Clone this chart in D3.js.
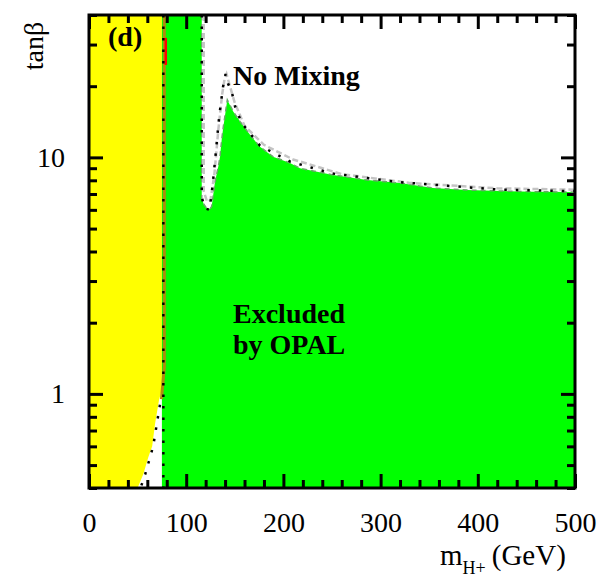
<!DOCTYPE html>
<html>
<head>
<meta charset="utf-8">
<script src="https://cdn.jsdelivr.net/npm/d3@7"></script>
<style>
  html, body { margin: 0; padding: 0; background: #fff; }
  svg { display: block; }
  text { font-family: "Liberation Serif", "Times New Roman", serif; fill: #000; }
</style>
</head>
<body>
<div id="chart"></div>
<script>
// ---------------- data ----------------
// x: charged Higgs mass m_H+ (GeV), y: tan(beta)
const xTickLabels = [0, 100, 200, 300, 400, 500];
const xMinorTicks = d3.range(0, 501, 20);
const yTickLabels = [1, 10];
const yMinorTicks = [0.4, 0.5, 0.6, 0.7, 0.8, 0.9, 1, 2, 3, 4, 5, 6, 7, 8, 9, 10, 20, 30, 40];

// LEP direct-search excluded region (yellow)
const lepMass = [0, 75, 75, 72, 68, 65, 61, 56, 50, 0];
const lepTanb = [40, 40, 1.05, 0.94, 0.75, 0.6, 0.54, 0.46, 0.4, 0.4];

// OPAL excluded region (green): upper boundary, left to right
const opalMass = [116, 116, 118, 121, 124.5, 126.2, 129.6, 133, 134.8, 136.5, 138.2, 140, 141.7, 142.3,
                  148.5, 155.3, 167.4, 175.9, 189.3, 206.8, 217, 251, 286, 320, 354, 389, 423, 457, 496, 500];
const opalTanb = [40, 6.7, 6.35, 6.1, 6.05, 6.2, 7.89, 9.13, 10.07, 11.85, 13.48, 15.1, 16.9, 17.5,
                  15.6, 14.2, 12.2, 11.1, 10.07, 9.47, 9.0, 8.43, 8.02, 7.79, 7.42, 7.28, 7.21, 7.16, 7.14, 7.13];
const opalLeftMass = 75;

// expected limit (dotted)
const expMass = [116, 116, 119, 124, 127, 130, 134, 138, 140.5, 143, 146.8, 150.3, 157, 176, 207, 250, 320, 423, 500];
const expTanb = [40, 6.8, 6.1, 6.0, 7.5, 10, 15, 20, 22.5, 20.5, 19.0, 16.4, 14.0, 11.2, 9.6, 8.55, 7.85, 7.3, 7.2];
const expLowMass = [76.5, 76.5];
const expLowTanb = [40, 0.4];
const expDiagMass = [73, 66, 58, 53];
const expDiagTanb = [0.9, 0.6, 0.46, 0.4];

// grey curve along the notch
const greyMass = [118, 118, 121.5, 125, 129, 133, 137, 139.5, 141.5, 145, 150, 160, 180, 210, 260, 330, 420, 500];
const greyTanb = [40, 7.2, 6.5, 6.6, 8.5, 13, 18.5, 21.5, 22.5, 20, 17, 13.6, 11.3, 9.8, 8.5, 7.8, 7.4, 7.3];

// boundary band between yellow and green
const bandMass = [77.5, 77.5, 74.5];
const bandTanb = [40, 1.3, 0.95];
const redMass = [79, 79];
const redTanb = [32, 24.6];

// ---------------- drawing ----------------
const W = 615, H = 577;
const L = 89, R = 575, T = 15, B = 488;

const svg = d3.select("#chart").append("svg").attr("width", W).attr("height", H);
const x = d3.scaleLinear().domain([0, 500]).range([L, R]);
const y = d3.scaleLog().domain([0.4, 40]).range([B, T]);

const zipPts = (xs, ys) => xs.map((v, i) => [x(v), y(ys[i])]);
const line = d3.line();

svg.append("defs").append("clipPath").attr("id", "plotclip")
  .append("rect").attr("x", L).attr("y", T).attr("width", R - L).attr("height", B - T);
const plot = svg.append("g").attr("clip-path", "url(#plotclip)");

// yellow
plot.append("path")
  .attr("d", line(zipPts(lepMass, lepTanb)) + "Z")
  .attr("fill", "#ffff00");

// green
const greenPts = [[x(opalLeftMass), y(0.4)], [x(opalLeftMass), y(40)]]
  .concat(zipPts(opalMass, opalTanb))
  .concat([[x(500), y(0.4)]]);
plot.append("path").attr("d", line(greenPts) + "Z").attr("fill", "#00ff00");

// soft edge along green boundary
plot.append("path")
  .attr("d", line(zipPts(opalMass, opalTanb)))
  .attr("fill", "none").attr("stroke", "#6aa86a").attr("stroke-width", 1.5)
  .attr("stroke-dasharray", "5,4");

// grey curve
plot.append("path")
  .attr("d", line(zipPts(greyMass, greyTanb)))
  .attr("fill", "none").attr("stroke", "#c4c4c4").attr("stroke-width", 2.5)
  .attr("stroke-dasharray", "6,3");

// band between yellow and green
plot.append("path")
  .attr("d", line(zipPts(bandMass, bandTanb)))
  .attr("fill", "none").attr("stroke", "#b08a10").attr("stroke-width", 3);
plot.append("path")
  .attr("d", line(zipPts(redMass, redTanb)))
  .attr("fill", "none").attr("stroke", "#ff0000").attr("stroke-width", 2.5);

// dotted expected lines
const dotted = (xs, ys) => plot.append("path")
  .attr("d", line(zipPts(xs, ys)))
  .attr("fill", "none").attr("stroke", "#000").attr("stroke-width", 2.5)
  .attr("stroke-dasharray", "2.5,9");
dotted(expMass, expTanb);
dotted(expLowMass, expLowTanb);
dotted(expDiagMass, expDiagTanb);

// ---------------- axes / ticks ----------------
const styleTicks = g => {
  g.select(".domain").remove();
  g.selectAll(".tick line").attr("stroke", "#000").attr("stroke-width", 3);
};
const minorX = xMinorTicks.filter(v => !xTickLabels.includes(v));
const minorY = yMinorTicks.filter(v => !yTickLabels.includes(v));

// bottom
svg.append("g").attr("transform", `translate(0,${B})`)
  .call(d3.axisBottom(x).tickValues(minorX).tickSize(-8).tickFormat("")).call(styleTicks);
svg.append("g").attr("transform", `translate(0,${B})`)
  .call(d3.axisBottom(x).tickValues(xTickLabels).tickSize(-14).tickFormat("")).call(styleTicks);
// top
svg.append("g").attr("transform", `translate(0,${T})`)
  .call(d3.axisTop(x).tickValues(minorX).tickSize(-8).tickFormat("")).call(styleTicks);
svg.append("g").attr("transform", `translate(0,${T})`)
  .call(d3.axisTop(x).tickValues(xTickLabels).tickSize(-14).tickFormat("")).call(styleTicks);
// left
svg.append("g").attr("transform", `translate(${L},0)`)
  .call(d3.axisLeft(y).tickValues(minorY).tickSize(-8).tickFormat("")).call(styleTicks);
svg.append("g").attr("transform", `translate(${L},0)`)
  .call(d3.axisLeft(y).tickValues(yTickLabels).tickSize(-14).tickFormat("")).call(styleTicks);
// right
svg.append("g").attr("transform", `translate(${R},0)`)
  .call(d3.axisRight(y).tickValues(minorY).tickSize(-8).tickFormat("")).call(styleTicks);
svg.append("g").attr("transform", `translate(${R},0)`)
  .call(d3.axisRight(y).tickValues(yTickLabels).tickSize(-14).tickFormat("")).call(styleTicks);

// frame
svg.append("rect").attr("x", L).attr("y", T).attr("width", R - L).attr("height", B - T)
  .attr("fill", "none").attr("stroke", "#000").attr("stroke-width", 3);

// tick labels
const xl = svg.append("g").attr("transform", `translate(0,${B})`)
  .call(d3.axisBottom(x).tickValues(xTickLabels).tickSize(0).tickPadding(24).tickFormat(d3.format("d")));
xl.select(".domain").remove();
xl.selectAll("text").style("font-size", "28px").style("font-family", "'Liberation Serif', serif").attr("fill", "#000");

const yl = svg.append("g").attr("transform", `translate(${L},0)`)
  .call(d3.axisLeft(y).tickValues(yTickLabels).tickSize(0).tickPadding(24).tickFormat(d3.format("d")));
yl.select(".domain").remove();
yl.selectAll("text").style("font-size", "28px").style("font-family", "'Liberation Serif', serif").attr("fill", "#000");

// axis titles
svg.append("text")
  .attr("transform", "translate(43,46) rotate(-90)")
  .attr("text-anchor", "middle")
  .style("font-size", "28px")
  .text("tanβ");

const xt = svg.append("text").attr("x", 440).attr("y", 565).style("font-size", "29px");
xt.append("tspan").text("m");
xt.append("tspan").attr("dy", 9).style("font-size", "18px").text("H+");
xt.append("tspan").attr("dy", -9).attr("dx", 6).text("(GeV)");

// annotations
svg.append("text").attr("x", 108).attr("y", 46)
  .style("font-size", "28px").style("font-weight", "bold").text("(d)");
svg.append("text").attr("x", 233).attr("y", 85)
  .style("font-size", "28px").style("font-weight", "bold").text("No Mixing");
svg.append("text").attr("x", 233).attr("y", 323)
  .style("font-size", "28px").style("font-weight", "bold").text("Excluded");
svg.append("text").attr("x", 233).attr("y", 354)
  .style("font-size", "28px").style("font-weight", "bold").text("by OPAL");
</script>
</body>
</html>
